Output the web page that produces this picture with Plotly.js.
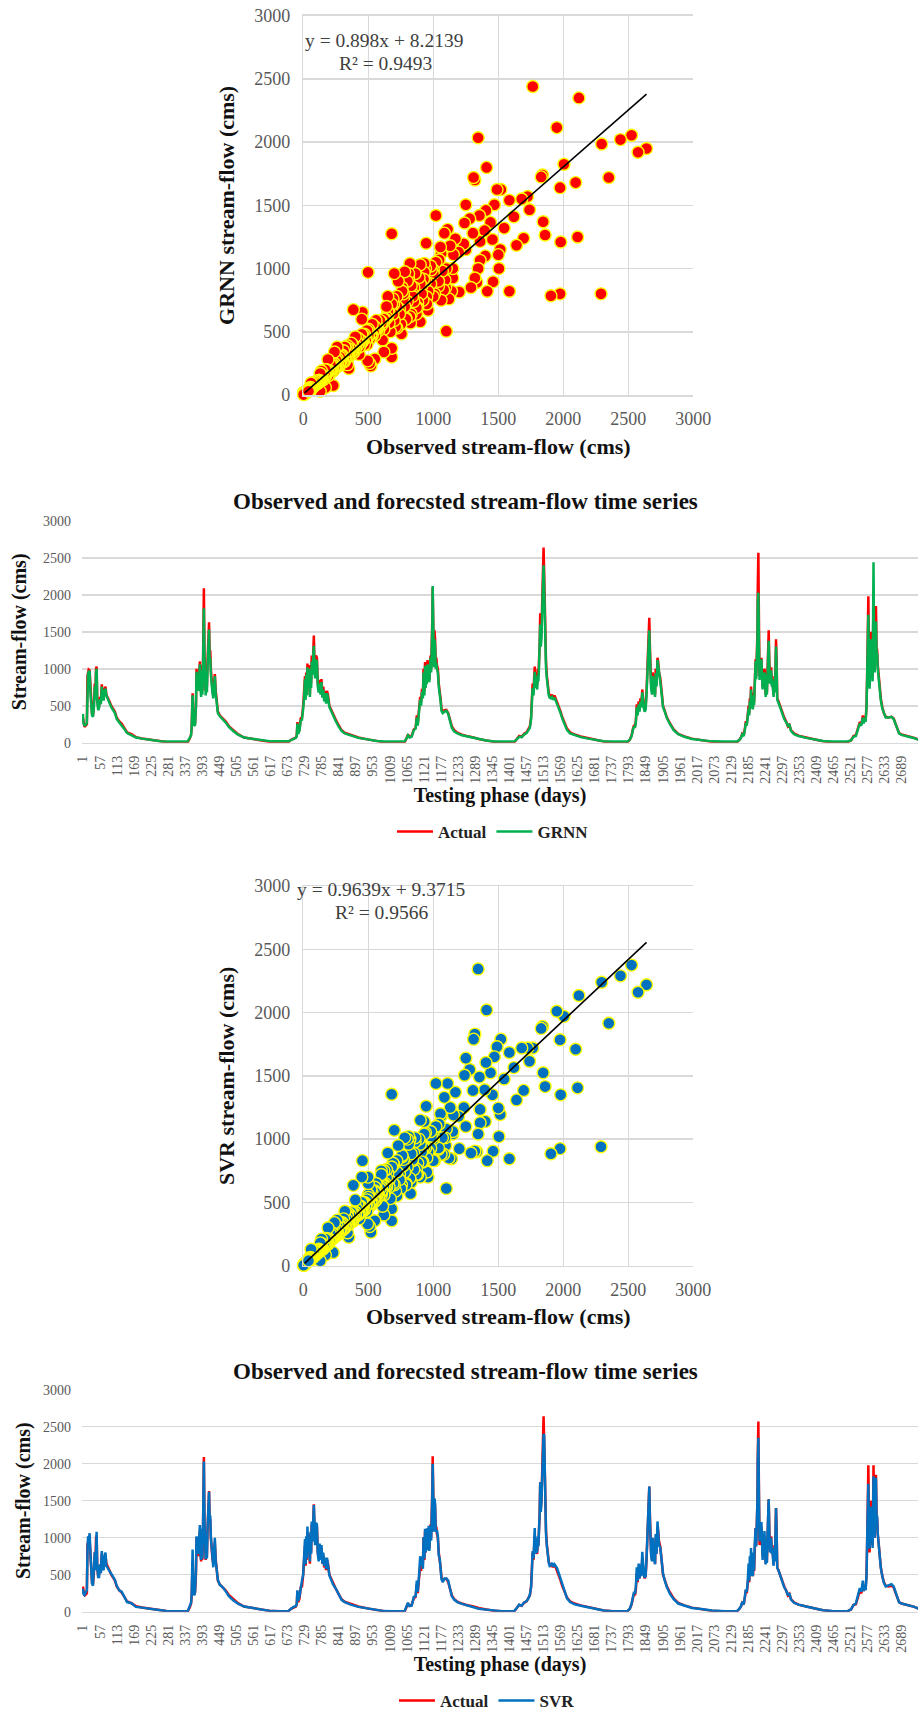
<!DOCTYPE html>
<html><head><meta charset="utf-8">
<script src="https://cdn.plot.ly/plotly-3.0.1.min.js"></script>
<style>html,body{margin:0;padding:0;background:#fff}</style></head>
<body><div id="chart" style="width:922px;height:1711px"></div>
<script>
const days = [
1,3,6,10,14,16,18,20,23,26, 28,31,34,37,40,42,44,46,48,51, 54,57,60,63,66,69,72,75,78,82, 88,94,100,106,112,120,128,136,146,160, 175,195,215,235,255,275,300,325,345,352,
356,358,361,363,366,369,372,374,376,378, 380,382,385,387,389,391,393,395,397,398, 400,402,404,406,408,410,412,413,415,417, 419,421,423,426,429,432,434,437,440,444, 450,460,470,480,495,510,530,555,585,620,
650,675,684,692,700,703,705,708,712,716, 720,724,727,730,732,734,736,738,740,743, 746,748,750,752,755,757,759,761,763,766, 769,772,775,778,781,784,787,790,793,796, 799,802,805,810,815,822,830,840,850,860, 880,905,935,965,990,1015,1040,1057,1062,1068,
1073,1080,1087,1093,1097,1100,1104,1108,1111,1114, 1117,1119,1122,1124,1126,1128,1130,1132,1134,1136, 1138,1140,1142,1144,1146,1148,1149,1151,1153,1155, 1157,1159,1161,1163,1166,1169,1172,1175,1178,1182, 1188,1194,1200,1206,1212,1220,1230,1245,1260,1280, 1300,1325,1350,1375,1400,1417,1425,1433,1441,1449,
1457,1463,1468,1472,1475,1477,1480,1482,1484,1486, 1488,1490,1492,1494,1496,1498,1500,1502,1504,1506, 1508,1510,1512,1513,1515,1517,1519,1521,1524,1527, 1530,1533,1537,1541,1545,1549,1553,1557,1562,1568, 1575,1582,1590,1600,1615,1635,1660,1685,1710,1740,
1788,1796,1802,1806,1810,1813,1816,1819,1822,1825, 1828,1831,1834,1837,1839,1842,1845,1848,1851,1853, 1855,1857,1859,1860,1862,1864,1866,1869,1871,1873, 1876,1879,1881,1884,1887,1889,1892,1896,1900,1905, 1910,1918,1928,1940,1955,1975,2000,2030,2065,2110,
2148,2156,2161,2165,2170,2174,2177,2180,2183,2186, 2188,2190,2192,2194,2196,2198,2200,2202,2204,2206, 2208,2209,2211,2213,2215,2216,2218,2220,2222,2224, 2226,2228,2230,2232,2234,2236,2238,2240,2242,2244, 2246,2248,2250,2252,2254,2256,2258,2260,2262,2264, 2266,2268,2270,2272,2274,2276,2278,2280,2284,2290, 2296,2303,2310,2315,2320,2325,2335,2350,2375,2400, 2430,2460,2510,2522,2530,2538,2545,2551,2556,2561,
2564,2567,2570,2573,2575,2577,2579,2581,2583,2585, 2587,2589,2591,2593,2594,2596,2598,2600,2602,2604, 2606,2608,2610,2613,2616,2620,2625,2630,2636,2645, 2655,2662,2668,2674,2680,2688,2700,2715,2730,2745];

const actual = [
340,250,215,230,250,900,960,990,980,700, 500,390,370,520,800,620,1000,1030,600,480, 500,620,560,790,680,600,720,760,650,620, 560,500,450,420,340,290,260,210,140,115, 75,58,45,30,18,8,4,4,5,60,
110,220,670,400,230,260,500,1000,800,950, 750,900,1100,800,680,1050,700,1000,1500,2090, 1200,800,700,1000,750,1100,1400,1550,1630,1200, 1250,1000,850,720,650,800,930,700,560,420, 370,330,285,225,165,115,70,55,35,8,
5,5,40,60,70,100,280,130,180,330, 340,500,650,900,620,950,700,1070,800,1050, 650,1000,800,1180,1000,1300,1450,1100,950,1180, 1150,800,720,850,700,860,650,760,600,700, 560,700,660,500,450,380,320,240,170,135, 105,70,45,20,6,4,4,6,50,110,
80,90,180,200,370,250,440,620,550,730, 650,1000,700,1090,800,1080,850,1120,900,1100, 850,1150,1180,1000,1220,1700,2100,1400,1100,1520, 1400,1100,1150,1050,1000,800,720,600,460,420, 440,445,400,300,220,170,135,110,90,75, 50,30,12,5,4,6,50,90,80,120,
140,180,220,340,600,800,700,900,1030,800, 950,850,780,1000,900,1100,1300,1750,1400,1500, 1800,2300,2500,2640,2300,1800,1400,1100,900,750, 680,640,620,650,600,640,600,550,500,430, 340,260,190,140,110,85,60,35,15,5,
5,40,100,180,240,220,300,520,400,560, 450,600,520,720,600,500,450,480,700,900, 1100,1400,1600,1690,1300,1000,800,700,950,880, 700,650,1000,800,1150,1100,950,880,720,500, 440,340,260,180,120,85,55,35,12,4,
5,40,70,120,100,200,290,250,340,500, 400,600,500,760,500,680,480,600,550,800, 1000,1130,900,1100,1500,2100,2570,1600,900,1150, 950,1150,900,750,880,800,1000,950,650,750, 680,1000,1300,1520,1100,850,950,1020,800,900, 750,650,850,700,1000,1400,1100,600,560,480, 420,340,280,220,240,170,125,95,70,45, 20,6,5,30,90,100,190,280,250,370,
280,360,300,500,900,1400,1980,1200,800,1000, 1500,1100,1200,900,1600,1980,1300,1000,1400,1850, 1300,1250,1050,900,750,600,480,400,350,340, 350,330,260,200,130,110,100,85,65,40];

const grnn = [
390,260,235,240,270,720,930,960,970,650, 470,370,350,480,760,580,950,1000,560,440, 470,590,520,760,640,570,700,730,640,590, 540,480,440,400,320,280,240,190,130,105, 70,55,42,30,20,15,15,16,18,70,
100,210,640,380,240,230,480,960,740,900, 700,860,1060,740,620,980,650,950,1350,1820, 1100,720,640,920,680,1000,1300,1450,1530,1100, 1150,920,800,680,600,760,900,660,520,400, 360,320,270,215,155,110,70,55,38,18,
18,18,35,55,65,90,260,120,170,300, 310,460,600,860,580,920,640,1020,750,1000, 620,950,740,1100,920,1180,1310,1020,870,1120, 1100,760,680,800,650,820,610,720,560,670, 530,670,620,480,430,360,300,220,160,125, 95,65,45,22,17,17,17,18,50,100,
70,80,170,190,340,230,410,580,500,690, 600,950,640,1040,740,1020,790,1060,840,1050, 820,1080,1150,950,1180,1600,2120,1300,1020,1400, 1300,1000,1080,1000,950,760,680,560,430,400, 420,430,390,290,200,150,125,100,85,65, 45,30,17,15,15,18,45,80,75,110,
130,170,200,320,560,740,640,820,960,740, 880,770,720,920,830,1020,1200,1600,1300,1400, 1700,2050,2340,2400,2100,1650,1300,1020,860,720, 640,610,600,620,580,610,570,530,480,410, 320,240,170,125,100,75,55,35,20,15,
15,40,90,170,220,200,280,480,370,520, 420,560,480,680,560,470,420,450,650,850, 1050,1250,1450,1520,1200,920,730,650,900,830, 660,620,940,760,1120,1040,900,830,680,480, 430,330,250,170,115,80,50,35,18,15,
15,40,65,110,90,180,270,230,320,460, 370,560,460,720,470,640,450,570,510,760, 950,1100,860,1050,1400,1900,2030,1300,850,1100, 900,1130,850,720,840,770,950,900,620,720, 650,950,1200,1380,1020,800,900,980,760,860, 720,620,820,680,950,1300,1000,580,540,460, 400,320,270,230,250,160,115,90,65,42, 22,17,16,30,80,90,180,260,230,340,
260,340,280,470,860,1500,1730,1100,730,950, 1400,1000,1100,830,2000,2440,1250,950,1300,1640, 1220,1200,1000,860,720,570,460,390,340,340, 350,320,250,190,125,105,95,80,60,40];

const svr = [
310,240,225,250,290,820,1020,960,1060,760, 560,380,350,540,810,560,1060,1080,620,470, 470,640,520,820,600,560,740,800,620,590, 560,510,460,430,350,290,270,200,130,115, 65,55,42,30,20,8,5,5,6,80,
120,230,840,420,220,270,560,1020,800,1000, 780,950,1170,760,700,1120,720,1080,1500,2030, 1200,800,710,1000,720,1100,1450,1580,1620,1250, 1300,1000,880,700,600,850,1000,680,580,430, 365,330,275,210,150,110,70,55,35,8,
6,6,40,65,75,110,290,150,210,360, 420,500,700,980,640,1020,720,1150,830,1000, 680,1080,780,1220,950,1300,1440,1200,900,1200, 1180,780,680,920,700,900,650,800,620,730, 580,730,640,490,440,370,320,235,160,130, 95,65,42,20,8,5,5,8,60,120,
75,80,200,210,420,270,470,750,620,740, 580,1010,720,1120,800,1090,830,1130,900,1160, 820,1130,1160,960,1220,1600,2000,1350,1080,1530, 1450,1080,1100,1100,1020,760,720,620,440,400, 450,450,420,310,210,160,130,105,90,70, 40,28,12,6,5,8,50,95,80,125,
140,175,230,330,580,820,720,880,1130,780, 960,800,820,1020,880,1110,1300,1750,1350,1480, 1750,2250,2400,2400,2380,1750,1350,1050,880,720, 660,620,630,660,610,640,610,590,530,450, 350,270,180,130,100,80,55,35,15,6,
6,40,110,190,270,240,340,600,420,650, 450,640,480,810,620,520,460,490,720,1000, 1150,1300,1680,1690,1250,1000,760,680,1000,850, 680,640,1050,780,1220,1080,900,870,700,520, 430,330,240,170,110,80,50,35,15,5,
8,40,75,130,100,210,300,270,400,650, 420,750,480,860,500,800,480,720,560,900, 1000,1130,880,1100,1500,2000,2350,1500,950,1200, 1000,1210,880,700,950,780,1090,920,640,850, 660,1050,1300,1520,1050,800,900,1000,780,870, 720,620,810,680,1000,1400,1050,590,560,480, 410,330,280,220,250,165,120,95,70,45, 20,8,6,30,90,110,210,320,270,420,
280,360,290,480,950,1300,1730,1150,850,1020, 1420,1150,1250,860,1600,1830,1350,1000,1500,1810, 1280,1280,1050,880,720,590,480,390,340,350, 370,340,270,200,125,110,100,85,65,40];

const obsPoints = [2640,2575,2525,2440,2350,2295,2290,2120,2110,2095,2005,1980,1975,1975,1950,1905,1860,1845,1840,1830,1765,1740,1725,1695,1680,1640,1620,1585,1585,1545,1520,1515,1505,1490,1500,1470,1460,1455,1440,1415,1410,1405,1400,1395,1360,1355,1360,1345,1345,1335,1320,1320,1310,1305,1290,1280,1250,1250,1240,1235,1200,1195,1170,1155,1150,1140,1130,1110,1100,1095,1085,1060,1055,1045,1020,1000,960,950,945,925,870,830,820,700,680,680,680,720,498,
520,510,550,495,610,620,755,640,650,695,790,825,900,880,760,780,810,860,900,930,985,1010,1040,1070,1090,1120,1150,450,455,385,400,430,350,340,320,260,240,190,230,170,140,130,90,60,
150,200,220,250,280,300,310,340,360,380,410,440,470,490,510,530,550,570,590,600,630,660,690,720,740,770,800,840,850,910,940,980,1000,
600,580,560,540,520,500,480,460,440,420,400,380,360,340,320,300,280,260,240,220,200,180,160,140,120,100,80,
570,550,530,510,490,470,450,430,410,390,370,350,330,310,290,270,250,230,210,190,170,150,130,110,90,
960,940,920,900,880,860,840,820,800,780,760,740,720,700,680,660,640,620,
1100,1080,1060,1040,1020,1000,980,950,930,910,890,870,850,830,810,790,770,750,730,710,690,670,650,
85,65,55,35,25,15,5,2,120,100,70,45,30,20,12,8,3];
const grnnPoints = [1950,1920,2055,2020,1720,1985,800,2350,1250,1680,1825,1210,1640,800,2115,785,1265,1370,1740,1725,2440,1465,1570,1240,1550,1185,1410,820,1540,1320,1625,1150,1000,1625,1110,1505,895,1230,1365,820,1800,1460,1100,1300,1065,1420,1215,2035,1000,890,925,1700,1720,1280,850,1395,1505,1150,1360,1195,815,1130,1235,1110,925,820,1180,1310,505,850,1280,750,1170,1070,1420,990,670,775,1200,915,640,865,1040,960,1275,300,370,530,970,
230,250,285,270,435,340,485,615,780,720,610,570,580,730,850,975,920,960,1030,1040,990,800,860,980,910,760,1000,600,655,675,460,320,210,240,380,380,340,280,75,60,190,30,100,95,
120,160,250,220,300,260,350,300,370,330,410,430,480,400,500,470,540,520,590,550,600,650,640,700,680,760,740,800,740,860,900,880,960,
570,510,590,500,470,520,430,470,400,450,360,395,330,370,270,315,240,290,220,200,190,200,130,160,100,110,75,
540,470,560,440,510,400,480,380,430,340,410,300,360,260,310,230,280,190,240,150,200,120,170,90,100,
820,1000,750,880,690,960,780,620,900,700,820,640,780,590,720,570,700,520,
1000,830,1120,900,1050,780,1020,720,970,800,930,690,850,640,960,600,800,560,900,540,760,500,660,
90,50,60,40,20,12,4,3,115,95,70,50,28,22,15,8,5];
const svrPoints = [2220,2160,2375,2290,1915,2240,940,2135,1405,1710,1970,1350,1785,925,2010,885,1415,1525,1890,1875,1720,1615,1720,1385,1720,1310,1565,845,1685,1475,1790,1195,1020,1730,1245,1650,905,1350,1525,830,2020,1605,1140,1390,1130,1490,1235,2345,1040,900,905,1830,1790,1385,890,1550,1640,1100,1505,1250,925,1180,1370,1190,1040,845,1250,1440,610,950,1330,880,1200,1120,1440,1000,700,850,1260,930,765,885,1000,1070,1355,355,450,550,700,
265,310,355,330,470,400,640,690,890,800,650,570,700,810,860,1010,960,980,1150,1140,1020,830,920,1010,1010,850,1060,700,830,635,520,370,225,260,430,360,340,300,105,85,210,40,120,130,
130,190,260,240,310,280,370,320,400,350,440,460,500,430,530,500,580,560,610,580,650,680,650,740,720,790,780,830,760,900,930,930,1020,
590,550,610,520,500,540,470,500,430,480,400,420,350,390,300,335,270,310,240,225,205,215,150,175,115,120,90,
580,510,570,470,520,440,500,410,450,380,420,330,370,290,330,250,290,220,250,170,210,135,180,105,110,
900,1050,820,960,720,1010,840,690,1000,740,870,680,830,640,780,620,760,560,
1080,880,1180,930,1100,830,1060,740,1040,820,1000,720,890,660,1020,640,840,610,950,590,810,530,730,
95,60,65,45,28,15,6,3,125,105,75,52,35,25,14,10,5];
const topObs = 40, topGrnn = 30, topSvr = 40;

const grnnTrendX = [10, 2640], grnnTrendY = [17, 2379];
const svrTrendX = [10, 2640], svrTrendY = [19, 2554];
const dayTicks = [1,57,113,169,225,281,337,393,449,505,561,617,673,729,785,841,897,953,1009,1065,1121,1177,1233,1289,1345,1401,1457,1513,1569,1625,1681,1737,1793,1849,1905,1961,2017,2073,2129,2185,2241,2297,2353,2409,2465,2521,2577,2633,2689];
const flowTicks = [0,500,1000,1500,2000,2500,3000];

const W = 922, H = 1711;
const SERIF = '"Liberation Serif", serif';
const GRID = '#d9d9d9', TICK = '#595959';
const fx = (a,b) => [a/W, b/W];
const fy = (top,bot) => [1-bot/H, 1-top/H];

function cloud(model, points, tx, ty) {
  const pairs = [];
  actual.forEach((v,i) => { if (v < 650) pairs.push([v, model[i]]); });
  obsPoints.forEach((x,i) => pairs.push([x, points[i]]));
  pairs.sort((a,b)=>b[0]-a[0]);
  pairs.push([tx,ty]);
  return {x: pairs.map(p=>p[0]), y: pairs.map(p=>p[1])};
}
const cg = cloud(grnn, grnnPoints, topObs, topGrnn), cs = cloud(svr, svrPoints, topObs, topSvr);
const mk = c => ({size:12, color:c, line:{color:'#ffff00', width:1.4}});

const lineTrace = (y,name,color,ax,ay,lg) => ({type:'scatter',mode:'lines',x:days,y,name,xaxis:ax,yaxis:ay,legend:lg,
  line:{color,width:2.5},cliponaxis:false});
const data = [
 {type:'scatter',mode:'markers',x:cg.x,y:cg.y,marker:mk('#ff0000'),xaxis:'x',yaxis:'y',showlegend:false,name:'GRNN',cliponaxis:false},
 {type:'scatter',mode:'lines',x:grnnTrendX,y:grnnTrendY,line:{color:'#000',width:1.6},xaxis:'x',yaxis:'y',showlegend:false,name:'Trend'},
 lineTrace(actual,'Actual','#ff0000','x2','y2','legend'),
 lineTrace(grnn,'GRNN','#00b050','x2','y2','legend'),
 {type:'scatter',mode:'markers',x:cs.x,y:cs.y,marker:mk('#0070c0'),xaxis:'x3',yaxis:'y3',showlegend:false,name:'SVR',cliponaxis:false},
 {type:'scatter',mode:'lines',x:svrTrendX,y:svrTrendY,line:{color:'#000',width:1.6},xaxis:'x3',yaxis:'y3',showlegend:false,name:'Trend'},
 lineTrace(actual,'Actual','#ff0000','x4','y4','legend2'),
 lineTrace(svr,'SVR','#0070c0','x4','y4','legend2')
];

const titleFont = s => ({family:SERIF,size:s,color:'#111',weight:700});
function scatX(anchor){return {domain:fx(303.3,693.3),range:[0,3000],tickvals:flowTicks,anchor,
  showgrid:true,gridcolor:GRID,gridwidth:1.5,zeroline:false,showline:true,linecolor:GRID,linewidth:1.5,mirror:true,ticks:'',ticklabelstandoff:7,
  tickfont:{family:SERIF,size:18,color:TICK},title:{text:'Observed stream-flow (cms)',font:titleFont(22),standoff:10}};}
function scatY(anchor,top,bot,text){return {domain:fy(top,bot),range:[0,3000],tickvals:flowTicks,anchor,
  showgrid:true,gridcolor:GRID,gridwidth:1.5,zeroline:false,showline:true,linecolor:GRID,linewidth:1.5,ticks:'',ticklabelstandoff:8,
  tickfont:{family:SERIF,size:18,color:TICK},title:{text,font:titleFont(22),standoff:13}};}
function lineX(anchor){return {domain:fx(82,918),range:[-2,2742],tickvals:dayTicks,tickangle:-90,anchor,
  showgrid:false,zeroline:false,showline:true,linecolor:GRID,linewidth:1.5,ticks:'',ticklabelstandoff:6,
  tickfont:{family:SERIF,size:14,color:TICK},title:{text:'Testing phase (days)',font:titleFont(20),standoff:5}};}
function lineY(anchor,top,bot,standoff){return {domain:fy(top,bot),range:[0,3000],tickvals:flowTicks,anchor,
  showgrid:true,gridcolor:GRID,gridwidth:1.5,zeroline:false,ticks:'',ticklabelstandoff:10,
  tickfont:{family:SERIF,size:14,color:TICK},title:{text:'Stream-flow (cms)',font:titleFont(20),standoff}};}

const ann = (text,px,py,size,color,weight) => ({text,xref:'paper',yref:'paper',x:px/W,y:1-py/H,showarrow:false,xanchor:'center',yanchor:'middle',
  font:{family:SERIF,size,color,weight:weight||400}});
const legendCfg = (px,py) => ({orientation:'h',x:px/W,y:1-py/H,xanchor:'center',yanchor:'middle',itemwidth:36,bgcolor:'rgba(0,0,0,0)',
  font:{family:SERIF,size:17,color:'#222',weight:700}});

const layout = {
 width:W,height:H,margin:{l:0,r:0,t:0,b:0,autoexpand:false},paper_bgcolor:'#fff',plot_bgcolor:'#fff',
 xaxis:scatX('y'), yaxis:scatY('x',15.7,395,'GRNN stream-flow (cms)'),
 xaxis2:lineX('y2'), yaxis2:lineY('x2',521,742.7,10),
 xaxis3:scatX('y3'), yaxis3:scatY('x3',886,1265.7,'SVR stream-flow (cms)'),
 xaxis4:lineX('y4'), yaxis4:lineY('x4',1389.7,1611.7,6),
 legend:legendCfg(493,832), legend2:legendCfg(487,1701),
 annotations:[
  ann('y = 0.898x + 8.2139',384,41,19.5,'#404040'),
  ann('R² = 0.9493',385,63,19.5,'#404040'),
  ann('y = 0.9639x + 9.3715',381,889,19.5,'#404040'),
  ann('R² = 0.9566',381,912,19.5,'#404040'),
  ann('Observed and forecsted stream-flow time series',465,501,23,'#111',700),
  ann('Observed and forecsted stream-flow time series',465,1371,23,'#111',700)
 ]
};
Plotly.newPlot('chart',data,layout,{displayModeBar:false,staticPlot:true});
</script></body></html>
